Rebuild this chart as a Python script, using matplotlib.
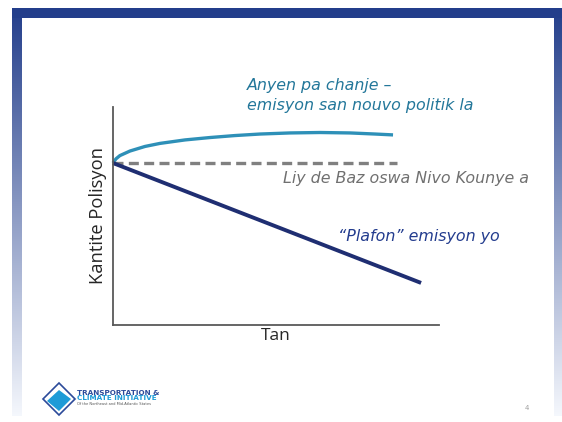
import numpy as np
import matplotlib
matplotlib.use("Agg")
import matplotlib.pyplot as plt
from matplotlib.patches import Polygon

# ===== Done =====
tan_status_quo = [0.0, 0.09, 0.21, 0.52, 0.98, 1.44, 2.21, 2.98, 3.74,
                  4.51, 5.43, 6.35, 7.27, 8.04, 8.59]
polisyon_status_quo = [7.43, 7.62, 7.77, 7.98, 8.19, 8.33, 8.49, 8.60, 8.69,
                       8.76, 8.81, 8.83, 8.81, 8.76, 8.72]

tan_baz = [0.0, 8.7]
polisyon_baz = [7.43, 7.43]

tan_plafon = [0.0, 9.45]
polisyon_plafon = [7.43, 1.93]

W, H = 562, 422
fig = plt.figure(figsize=(W / 100, H / 100), dpi=100)

# ===== Fon ak kad =====
bg = fig.add_axes([0, 0, 1, 1])
bg.set_xlim(0, W)
bg.set_ylim(H, 0)
bg.axis("off")

top = np.array([35, 62, 139]) / 255
fade = np.linspace(0, 1, 256)[:, None]
grad = top[None, :] * (1 - fade) + np.array([0.96, 0.97, 0.99])[None, :] * fade
grad = grad[:, None, :]
bg.imshow(grad, extent=(12, 22, 416, 8), aspect="auto", zorder=1)
bg.imshow(grad, extent=(554, 562, 416, 8), aspect="auto", zorder=1)
bg.fill_between([12, 562], 8, 18, color=top, lw=0, zorder=2)

# logo
bg.add_patch(Polygon([[59, 383], [75, 399], [59, 415], [43, 399]],
                     closed=True, fc="white", ec="#2B4A9A", lw=1.2, zorder=3))
bg.add_patch(Polygon([[47, 401], [59, 390], [71, 399], [59, 411]],
                     closed=True, fc="#1E9BD7", ec="none", zorder=4))
bg.text(77, 393, "TRANSPORTATION &", fontsize=5.2, fontweight="bold",
        color="#2B4A9A", va="center", zorder=5)
bg.text(77, 398.5, "CLIMATE INITIATIVE", fontsize=5.2, fontweight="bold",
        color="#1E9BD7", va="center", zorder=5)
bg.text(77, 404, "Of the Northeast and Mid-Atlantic States", fontsize=2.6,
        color="#555555", va="center", zorder=5)
bg.text(527, 408, "4", fontsize=5, color="#A0A0A0", ha="center", va="center")

# ===== Grafik =====
ax = fig.add_axes([113 / W, 1 - 325 / H, 326 / W, 218 / H])
ax.set_xlim(0, 10)
ax.set_ylim(0, 10)
ax.patch.set_alpha(0)
for s in ["top", "right"]:
    ax.spines[s].set_visible(False)
for s in ["left", "bottom"]:
    ax.spines[s].set_color("#595959")
    ax.spines[s].set_linewidth(1.3)
ax.set_xticks([])
ax.set_yticks([])

ax.plot(tan_status_quo, polisyon_status_quo, color="#2E90B8", lw=2.4,
        solid_capstyle="butt", solid_joinstyle="round", clip_on=False)
ax.plot(tan_baz, polisyon_baz, color="#808080", lw=2.4, ls=(0, (3.0, 1.6)),
        clip_on=False)
ax.plot(tan_plafon, polisyon_plafon, color="#1F2E72", lw=2.8,
        solid_capstyle="butt", clip_on=False)

ax.set_xlabel("Tan", fontsize=12.5, family="Open Sans", color="#262626",
              labelpad=2)
ax.set_ylabel("Kantite Polisyon", fontsize=13.2, family="Open Sans",
              color="#262626", labelpad=4)

hand = dict(fontsize=11.4, style="italic", family="DejaVu Sans")
ax.text(4.12, 10.53, "Anyen pa chanje \u2013\nemisyon san nouvo politik la",
        color="#23779A", va="center", ha="left", linespacing=1.35, **hand)
ax.text(5.22, 6.7, "Liy de Baz oswa Nivo Kounye a", color="#707070",
        va="center", ha="left", **hand)
ax.text(6.9, 4.04, "\u201cPlafon\u201d emisyon yo", color="#233C8E",
        va="center", ha="left", **hand)

fig.savefig("out.png", dpi=100)
